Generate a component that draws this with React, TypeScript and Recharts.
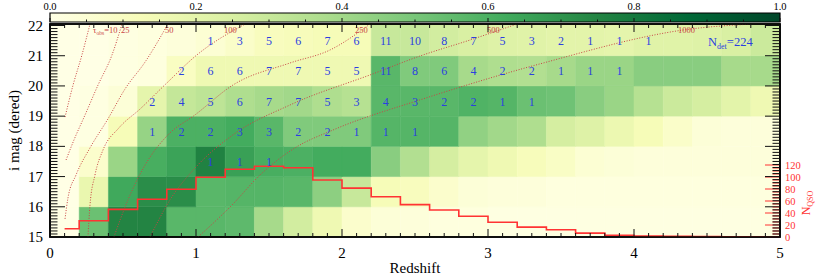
import React from "react";
import { ComposedChart, XAxis, YAxis, ReferenceArea, ReferenceLine, Line, Scatter } from "recharts";

const SERIF = "'Liberation Serif', 'Times New Roman', serif";
const _ = null;

// redshift bin edges and i-mag bin edges (top edge runs to the frame)
const Z_EDGES = [0, 0.2, 0.4, 0.6, 0.8, 1.0, 1.2, 1.4, 1.6, 1.8, 2.0, 2.2, 2.4, 2.6, 2.8, 3.0, 3.2, 3.4, 3.6, 3.8, 4.0, 4.2, 4.4, 4.6, 4.8, 5.0];
const MAG_EDGES = [15, 16, 17, 18, 19, 20, 21, 22.05];

// detection fraction per cell (colour), one array per magnitude row
const FRAC_15 = [0, 0.53, 0.75, 0.75, 0.57, 0.57, 0.56, 0.39, 0.27, 0.16, 0.07, 0.04, 0.03, 0.02, 0.02, 0.01, 0.01, 0.01, 0.01, 0.01, 0.01, 0.01, 0.01, 0.01, 0.01];
const FRAC_16 = [0, 0.18, 0.63, 0.72, 0.72, 0.57, 0.58, 0.58, 0.57, 0.45, 0.3, 0.13, 0.11, 0.07, 0.04, 0.03, 0.03, 0.02, 0.02, 0.02, 0.02, 0.02, 0.02, 0.02, 0.02];
const FRAC_17 = [0, 0.07, 0.42, 0.61, 0.65, 0.76, 0.66, 0.61, 0.6, 0.62, 0.62, 0.46, 0.36, 0.26, 0.2, 0.16, 0.12, 0.09, 0.05, 0.04, 0.03, 0.03, 0.03, 0.03, 0.03];
const FRAC_18 = [0, 0.01, 0.13, 0.43, 0.6, 0.6, 0.62, 0.57, 0.48, 0.48, 0.48, 0.58, 0.58, 0.58, 0.44, 0.4, 0.37, 0.26, 0.23, 0.17, 0.13, 0.08, 0.04, 0.03, 0.03];
const FRAC_19 = [0, 0.01, 0.04, 0.2, 0.31, 0.33, 0.37, 0.39, 0.4, 0.37, 0.35, 0.57, 0.57, 0.57, 0.59, 0.58, 0.53, 0.52, 0.46, 0.42, 0.35, 0.29, 0.26, 0.21, 0.16];
const FRAC_20 = [0, 0, 0.01, 0.02, 0.1, 0.16, 0.16, 0.16, 0.16, 0.16, 0.16, 0.57, 0.48, 0.48, 0.39, 0.37, 0.36, 0.39, 0.42, 0.42, 0.46, 0.46, 0.46, 0.39, 0.39];
const FRAC_21 = [0, 0, 0.01, 0.02, 0.03, 0.05, 0.08, 0.11, 0.12, 0.13, 0.13, 0.3, 0.3, 0.27, 0.25, 0.23, 0.22, 0.21, 0.21, 0.2, 0.22, 0.22, 0.23, 0.25, 0.29];
const FRAC_ROWS = [FRAC_15, FRAC_16, FRAC_17, FRAC_18, FRAC_19, FRAC_20, FRAC_21];

// number of detected quasars per cell
const CNT_17 = [_, _, _, _, _, 1, 1, 1, _, _, _, _, _, _, _, _, _, _, _, _, _, _, _, _, _];
const CNT_18 = [_, _, _, 1, 2, 2, 3, 3, 2, 2, 1, 1, 1, _, _, _, _, _, _, _, _, _, _, _, _];
const CNT_19 = [_, _, _, 2, 4, 5, 6, 7, 7, 5, 3, 4, 3, 2, 2, 1, 1, _, _, _, _, _, _, _, _];
const CNT_20 = [_, _, _, _, 2, 6, 6, 7, 7, 5, 5, 11, 8, 6, 4, 2, 2, 1, 1, 1, _, _, _, _, _];
const CNT_21 = [_, _, _, _, _, 1, 3, 5, 6, 7, 6, 11, 10, 8, 7, 5, 3, 2, 1, 1, 1, _, _, _, _];
const CNT_ROWS = [
  { mag: 17, cnt: CNT_17 },
  { mag: 18, cnt: CNT_18 },
  { mag: 19, cnt: CNT_19 },
  { mag: 20, cnt: CNT_20 },
  { mag: 21, cnt: CNT_21 },
];

// N_QSO histogram (step starts at z=0.1)
const HIST_Z = [0.1, 0.2, 0.4, 0.6, 0.8, 1.0, 1.2, 1.4, 1.6, 1.8, 2.0, 2.2, 2.4, 2.6, 2.8, 3.0, 3.2, 3.4, 3.6, 3.8, 4.0, 4.2, 4.4, 4.6, 4.8, 5.0];
const HIST_N = [13.8, 27, 46, 63, 79.5, 99.5, 113, 118, 115.5, 95, 81.5, 67, 54, 45, 34.5, 24.5, 16.5, 12, 6.5, 3, 1.5, 1.2, 0.6, 0.5, 0, 0];

// tau_obs contours, points as [z, mag]
const TAU_10 = [[0.103, 18.97], [0.158, 20.03], [0.219, 21.03], [0.274, 22.05]];
const TAU_25 = [[0.11, 17.55], [0.164, 18.21], [0.24, 19.04], [0.329, 20.03], [0.425, 21.03], [0.493, 22.05]];
const TAU_50 = [[0.103, 15.6], [0.123, 16.29], [0.178, 17.05], [0.274, 17.95], [0.397, 18.91], [0.514, 19.9], [0.651, 20.79], [0.808, 22.05]];
const TAU_100 = [[0.26, 15.0], [0.274, 16.06], [0.308, 17.05], [0.363, 17.88], [0.47, 18.6], [0.62, 19.25], [0.79, 20.05], [1.007, 21.03], [1.336, 22.05]];
const TAU_250 = [[0.438, 15.0], [0.534, 16.23], [0.651, 17.38], [0.808, 18.38], [0.993, 19.04], [1.253, 20.03], [1.644, 20.76], [1.918, 21.19], [2.192, 22.05]];
const TAU_500 = [[0.685, 15.0], [0.822, 16.23], [0.993, 17.28], [1.253, 18.38], [1.644, 19.37], [2.212, 20.4], [2.534, 20.99], [2.877, 21.52], [3.199, 22.05]];
const TAU_1000 = [[1.014, 15.0], [1.247, 16.06], [1.438, 17.05], [1.678, 17.95], [1.938, 18.54], [2.555, 19.57], [3.356, 20.73], [4.397, 21.89], [4.808, 22.05]];
const CONTOURS = [TAU_10, TAU_25, TAU_50, TAU_100, TAU_250, TAU_500, TAU_1000];

const TAU_LABELS = [
  { z: 0.295, mag: 21.76, text: "10", full: true },
  { z: 0.486, mag: 21.76, text: "25" },
  { z: 0.788, mag: 21.76, text: "50" },
  { z: 1.192, mag: 21.76, text: "100" },
  { z: 2.089, mag: 21.76, text: "250" },
  { z: 2.993, mag: 21.76, text: "500" },
  { z: 4.301, mag: 21.76, text: "1000" },
];
const N_DET = [{ z: 4.507, mag: 21.32, text: "224" }];

const YLGN = ["#ffffe5", "#f7fcb9", "#d9f0a3", "#addd8e", "#78c679", "#41ab5d", "#238443", "#006837", "#004529"];

function rgb(h: string) {
  return [1, 3, 5].map((i) => parseInt(h.slice(i, i + 2), 16));
}
function ylgn(v: number) {
  const t = Math.max(0, Math.min(1, v)) * 8;
  const i = Math.min(7, Math.floor(t));
  const f = t - i;
  const a = rgb(YLGN[i]);
  const b = rgb(YLGN[i + 1]);
  return `rgb(${a.map((c, k) => Math.round(c + (b[k] - c) * f)).join(",")})`;
}

const PLOT_W = 730;
const PLOT_H = 213;
const CB_H = 9;
const Z_DOMAIN = [0, 5];
const MAG_DOMAIN = [15, 22.05];
const N_DOMAIN = [0, 355];

const Z_TICKS = Array.from({ length: 51 }, (_, i) => i / 10);
const MAG_TICKS = Array.from({ length: 71 }, (_, i) => 15 + i / 10);
const N_TICKS = Array.from({ length: 25 }, (_, i) => i * 5);
const CB_TICKS = Array.from({ length: 21 }, (_, i) => i / 20);

const near = (v: number, step: number) => Math.abs(v / step - Math.round(v / step)) < 1e-6;

const cells = FRAC_ROWS.flatMap((row, r) =>
  row.map((v, c) => ({ x1: Z_EDGES[c], x2: Z_EDGES[c + 1], y1: MAG_EDGES[r], y2: MAG_EDGES[r + 1], color: ylgn(v) }))
);
const counts = CNT_ROWS.flatMap(({ mag, cnt }) =>
  cnt.flatMap((n, c) => (n == null ? [] : [{ z: (Z_EDGES[c] + Z_EDGES[c + 1]) / 2, mag: mag + 0.5, n }]))
);
const hist = HIST_Z.map((z, i) => ({ z, n: HIST_N[i] }));
const contours = CONTOURS.map((pts) => pts.map(([z, mag]) => ({ z, mag })));

// inward tick marks as short segments; pixel lengths turned into axis units
const zPerPx = (Z_DOMAIN[1] - Z_DOMAIN[0]) / PLOT_W;
const magPerPx = (MAG_DOMAIN[1] - MAG_DOMAIN[0]) / PLOT_H;
const magTickSegs = [
  ...Z_TICKS.map((z) => [{ x: z, y: MAG_DOMAIN[0] }, { x: z, y: MAG_DOMAIN[0] + (near(z, 1) ? 8 : 4) * magPerPx }]),
  ...Z_TICKS.map((z) => [{ x: z, y: MAG_DOMAIN[1] }, { x: z, y: MAG_DOMAIN[1] - (near(z, 1) ? 8 : 4) * magPerPx }]),
  ...MAG_TICKS.map((m) => [{ x: Z_DOMAIN[0], y: m }, { x: Z_DOMAIN[0] + (near(m, 1) ? 15 : 7.5) * zPerPx, y: m }]),
  ...MAG_TICKS.map((m) => [{ x: Z_DOMAIN[1], y: m }, { x: Z_DOMAIN[1] - (near(m, 1) ? 15 : 7.5) * zPerPx, y: m }]),
];
const nTickSegs = N_TICKS.map((n) => [{ x: Z_DOMAIN[1], y: n }, { x: Z_DOMAIN[1] - (near(n, 20) ? 15 : 7.5) * zPerPx, y: n }]);
const cbTickSegs = CB_TICKS.map((v) => [{ x: v, y: 0 }, { x: v, y: (near(v, 0.2) ? 4 : 2.5) / CB_H }]);

const BLACK = "#000";
const TICK = "#111";
const RED = "#ff3333";
const BLUE = "#2b3fe0";
const CONTOUR = "#c94444";

function BottomLabel({ x, y, payload }: any) {
  if (!near(payload.value, 1)) return <g />;
  return (
    <text x={x} y={y + 21} textAnchor="middle" fontSize={15} fontFamily={SERIF} fill={BLACK}>
      {Math.round(payload.value)}
    </text>
  );
}
function LeftLabel({ x, y, payload }: any) {
  if (!near(payload.value, 1)) return <g />;
  return (
    <text x={x - 7} y={y + 5} textAnchor="end" fontSize={15} fontFamily={SERIF} fill={BLACK}>
      {Math.round(payload.value)}
    </text>
  );
}
function NLabel({ x, y, payload }: any) {
  if (!near(payload.value, 20)) return <g />;
  return (
    <text x={x + 5} y={y + 3.5} textAnchor="start" fontSize={10.5} fontFamily={SERIF} fill={RED}>
      {payload.value}
    </text>
  );
}
function CbLabel({ x, y, payload }: any) {
  if (!near(payload.value, 0.2)) return <g />;
  return (
    <text x={x} y={y - 3} textAnchor="middle" fontSize={10.5} fontFamily={SERIF} fill={BLACK}>
      {payload.value.toFixed(1)}
    </text>
  );
}

function CountText({ cx, cy, payload }: any) {
  return (
    <text x={cx} y={cy + 4.5} textAnchor="middle" fontSize={12} fontFamily={SERIF} fill={BLUE}>
      {payload.n}
    </text>
  );
}
function TauText({ cx, cy, payload }: any) {
  return (
    <text x={cx} y={cy} fontSize={8.5} fontFamily={SERIF} fill={CONTOUR}>
      {payload.full && (
        <>
          τ<tspan fontSize={5.5} dy={2}>obs</tspan>
          <tspan dy={-2}>=</tspan>
        </>
      )}
      {payload.text}
    </text>
  );
}
function NDetText({ cx, cy, payload }: any) {
  return (
    <text x={cx} y={cy} fontSize={12.5} fontFamily={SERIF} fill={BLUE}>
      N<tspan fontSize={8} dy={3}>det</tspan>
      <tspan dy={-3}>={payload.text}</tspan>
    </text>
  );
}

const layer: React.CSSProperties = { position: "absolute", left: 0, top: 0 };

export default function App() {
  return (
    <div style={{ position: "absolute", left: 0, top: 0, width: 830, height: 277, background: "#fff" }}>
      <div style={layer}>
        <ComposedChart width={830} height={277} margin={{ top: 24, right: 49, bottom: 39, left: 49 }}>
          <XAxis
            xAxisId="b" dataKey="z" type="number" domain={Z_DOMAIN} allowDataOverflow
            ticks={Z_TICKS} interval={0} height={1} tickSize={0} tickMargin={0}
            axisLine={false} tickLine={false} tick={BottomLabel}
            label={{
              content: ({ viewBox }: any) => (
                <text x={viewBox.x + viewBox.width / 2} y={viewBox.y + 36} textAnchor="middle" fontSize={15} fontFamily={SERIF}>
                  Redshift
                </text>
              ),
            }}
          />
          <YAxis
            yAxisId="m" dataKey="mag" type="number" domain={MAG_DOMAIN} allowDataOverflow
            ticks={MAG_TICKS} interval={0} width={1} tickSize={0} tickMargin={0}
            axisLine={false} tickLine={false} tick={LeftLabel}
            label={{
              content: ({ viewBox }: any) => {
                const cy = viewBox.y + viewBox.height / 2;
                return (
                  <text x={19} y={cy} transform={`rotate(-90, 19, ${cy})`} textAnchor="middle" fontSize={15} fontFamily={SERIF}>
                    i mag (dered)
                  </text>
                );
              },
            }}
          />
          <YAxis
            yAxisId="n" dataKey="n" type="number" orientation="right" domain={N_DOMAIN} allowDataOverflow
            ticks={N_TICKS} interval={0} width={1} tickSize={0} tickMargin={0}
            axisLine={false} tickLine={false} tick={NLabel}
            label={{
              content: ({ viewBox }: any) => {
                const cx = viewBox.x + 30;
                const cy = viewBox.y + viewBox.height - 34;
                return (
                  <text x={cx} y={cy} transform={`rotate(-90, ${cx}, ${cy})`} textAnchor="middle" fontSize={12} fontFamily={SERIF} fill={RED}>
                    N<tspan fontSize={8} dy={3}>QSO</tspan>
                  </text>
                );
              },
            }}
          />

          {cells.map((c, i) => (
            <ReferenceArea
              key={i} xAxisId="b" yAxisId="m" x1={c.x1} x2={c.x2} y1={c.y1} y2={c.y2}
              fill={c.color} fillOpacity={1} stroke={c.color} strokeWidth={0.5} ifOverflow="visible"
            />
          ))}
          <ReferenceArea
            xAxisId="b" yAxisId="m" x1={Z_DOMAIN[0]} x2={Z_DOMAIN[1]} y1={MAG_DOMAIN[0]} y2={MAG_DOMAIN[1]}
            fill="none" stroke={BLACK} strokeWidth={1.6} ifOverflow="visible"
          />
          {nTickSegs.map((seg, i) => (
            <ReferenceLine key={`n${i}`} xAxisId="b" yAxisId="n" segment={seg} stroke={RED} strokeWidth={1} ifOverflow="visible" />
          ))}

          {contours.map((pts, i) => (
            <Line
              key={i} data={pts} xAxisId="b" yAxisId="m" dataKey="mag" type="monotone"
              stroke={CONTOUR} strokeWidth={1} strokeDasharray="1 1.6" dot={false} activeDot={false}
              isAnimationActive={false}
            />
          ))}

          <Line
            data={hist} xAxisId="b" yAxisId="n" dataKey="n" type="stepAfter"
            stroke={RED} strokeWidth={1.6} dot={false} activeDot={false} isAnimationActive={false}
          />

          <Scatter data={counts} xAxisId="b" yAxisId="m" shape={CountText} isAnimationActive={false} />
          <Scatter data={TAU_LABELS} xAxisId="b" yAxisId="m" shape={TauText} isAnimationActive={false} />
          <Scatter data={N_DET} xAxisId="b" yAxisId="m" shape={NDetText} isAnimationActive={false} />
        </ComposedChart>
      </div>

      {/* black inward ticks in their own transparent layer above the heat map */}
      <div style={layer}>
        <ComposedChart width={830} height={277} margin={{ top: 24, right: 50, bottom: 40, left: 50 }}>
          <XAxis xAxisId="b" dataKey="z" type="number" domain={Z_DOMAIN} allowDataOverflow hide />
          <YAxis yAxisId="m" dataKey="mag" type="number" domain={MAG_DOMAIN} allowDataOverflow hide />
          {magTickSegs.map((seg, i) => (
            <ReferenceLine key={i} xAxisId="b" yAxisId="m" segment={seg} stroke={TICK} strokeWidth={1} ifOverflow="visible" />
          ))}
          <ReferenceArea
            xAxisId="b" yAxisId="m" x1={Z_DOMAIN[0]} x2={Z_DOMAIN[1]} y1={MAG_DOMAIN[0]} y2={MAG_DOMAIN[1]}
            fill="none" stroke={BLACK} strokeWidth={1.6} ifOverflow="visible"
          />
        </ComposedChart>
      </div>

      {/* colour bar */}
      <div style={layer}>
        <ComposedChart width={830} height={24} margin={{ top: 12, right: 50, bottom: 2, left: 50 }}>
          <defs>
            <linearGradient id="ylgn" x1="0" x2="1" y1="0" y2="0">
              {YLGN.map((c, i) => (
                <stop key={i} offset={i / 8} stopColor={c} />
              ))}
            </linearGradient>
          </defs>
          <XAxis
            xAxisId="c" dataKey="v" type="number" orientation="top" domain={[0, 1]} allowDataOverflow
            ticks={CB_TICKS} interval={0} height={1} tickSize={0} tickMargin={0}
            axisLine={false} tickLine={false} tick={CbLabel}
          />
          <YAxis yAxisId="c" dataKey="y" type="number" domain={[0, 1]} allowDataOverflow hide />
          <ReferenceArea
            xAxisId="c" yAxisId="c" x1={0} x2={1} y1={0} y2={1}
            fill="url(#ylgn)" fillOpacity={1} stroke={BLACK} strokeWidth={1.2} ifOverflow="visible"
          />
        </ComposedChart>
      </div>

      {/* colour bar ticks layer */}
      <div style={layer}>
        <ComposedChart width={830} height={24} margin={{ top: 13, right: 50, bottom: 2, left: 50 }}>
          <XAxis xAxisId="c" dataKey="v" type="number" domain={[0, 1]} allowDataOverflow hide />
          <YAxis yAxisId="c" dataKey="y" type="number" domain={[0, 1]} allowDataOverflow hide />
          {cbTickSegs.map((seg, i) => (
            <ReferenceLine key={i} xAxisId="c" yAxisId="c" segment={seg} stroke={TICK} strokeWidth={1} ifOverflow="visible" />
          ))}
        </ComposedChart>
      </div>
    </div>
  );
}
